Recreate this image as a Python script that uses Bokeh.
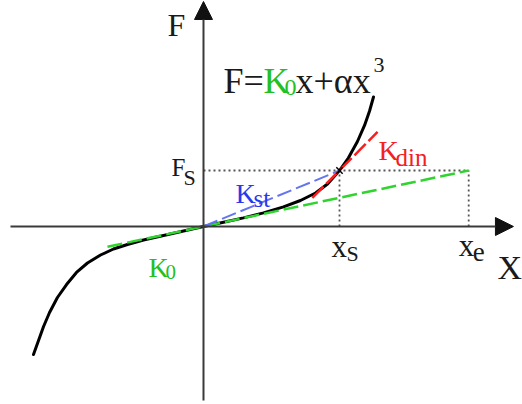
from bokeh.plotting import figure
from bokeh.models import Range1d, Arrow, NormalHead
from bokeh.core.properties import value
from bokeh.embed import file_html
from bokeh.resources import INLINE

# --- data (normalised so that x_s = 1 and F_s = 1) ---------------------------
# characteristic F(x) = K0*x + a*x^3, sampled along the drawn curve
curve_x = [-1.250, -1.213, -1.176, -1.132, -1.074, -1.007, -0.934, -0.853,
           -0.757, -0.662, -0.559, -0.441, -0.294, -0.147,
           0.0, 0.147, 0.294, 0.441, 0.588, 0.713, 0.824, 0.912,
           1.000, 1.066, 1.132, 1.184, 1.221, 1.250]
curve_F = [-2.286, -2.036, -1.786, -1.536, -1.268, -1.036, -0.821, -0.652,
           -0.509, -0.402, -0.321, -0.241, -0.161, -0.080,
           0.0, 0.075, 0.154, 0.243, 0.350, 0.464, 0.598, 0.759,
           1.000, 1.227, 1.518, 1.804, 2.063, 2.313]

x_s = 1.0    # working point displacement
F_s = 1.0    # working point force
x_e = 1.95   # equivalent displacement on the initial stiffness line

k0_x = [-0.706, x_e]        # initial stiffness K0
k0_F = [-0.362, F_s]
kst_x = [0.0, x_s]          # secant (static) stiffness
kst_F = [0.0, F_s]
kdin_x = [0.80, 1.28]       # tangent (dynamic) stiffness
kdin_F = [0.51, 1.69]

# --- figure -------------------------------------------------------------------
W, H = 522, 404
X0, X1 = -1.4926, 2.3456
Y0, Y1 = -3.1786, 4.0357
SX = (X1 - X0) / W   # data units per screen pixel
SY = (Y1 - Y0) / H

SERIF = "Liberation Serif"
GREEN_LINE = "#2fd42f"
GREEN_TEXT = "#22c022"
BLUE_LINE = "#6475f0"
BLUE_TEXT = "#2838ee"
RED = "#f42020"
AXIS = "#3a3a3a"
DOT = "#555555"
INK = "#1a1a1a"

p = figure(width=W, height=H, output_backend="svg", toolbar_location=None,
           x_range=Range1d(X0, X1), y_range=Range1d(Y0, Y1),
           x_axis_location=None, y_axis_location=None, min_border=0)
p.grid.visible = False
p.outline_line_color = None
p.background_fill_color = "white"
p.border_fill_color = "white"

# coordinate axes with arrow heads
x_tail, x_tip = -1.419, 2.279
y_tail, y_tip = -3.107, 4.018
p.add_layout(Arrow(end=NormalHead(size=18, fill_color="#111111", line_color="#111111"),
                   x_start=x_tail, y_start=0, x_end=x_tip, y_end=0,
                   line_color=AXIS, line_width=2))
p.add_layout(Arrow(end=NormalHead(size=18, fill_color="#111111", line_color="#111111"),
                   x_start=0, y_start=y_tail, x_end=0, y_end=y_tip,
                   line_color=AXIS, line_width=2))

# dotted guides to F_s, x_s and x_e
p.line([0, x_e], [F_s, F_s], line_color=DOT, line_width=1.8, line_dash="2 3")
p.line([x_s, x_s], [0, F_s], line_color=DOT, line_width=1.8, line_dash="2 3")
p.line([x_e, x_e], [0, F_s], line_color=DOT, line_width=1.8, line_dash="2 3")

# force-displacement curve
p.line(curve_x, curve_F, line_color="black", line_width=3, line_join="round",
       line_cap="round")

# stiffness lines drawn over the curve
p.line(k0_x, k0_F, line_color=GREEN_LINE, line_width=2.5, line_dash="15 5")
p.line(kst_x, kst_F, line_color=BLUE_LINE, line_width=2, line_dash="15 5")
p.line(kdin_x, kdin_F, line_color=RED, line_width=2.5, line_dash="16 4")

p.scatter([x_s], [F_s], marker="x", size=9, line_color="black", line_width=1.5)


def label(x, y, txt, color, size, dx=0.0, dy=0.0):
    """Text anchored at a data point, shifted by dx/dy screen pixels (dy down)."""
    p.text(x=[x + dx * SX], y=[y - dy * SY], text=[txt], text_color=color,
           text_font=value(SERIF), text_font_size=f"{size}px",
           text_align="left", text_baseline="alphabetic")


# axis names
label(0, y_tip, "F", INK, 32, dx=-36, dy=24)
label(x_tip, 0, "X", INK, 34, dx=-16, dy=41)

# tick-like labels
label(0, F_s, "F", INK, 25, dx=-32, dy=-3)
label(0, F_s, "S", INK, 22, dx=-20, dy=7)
label(x_s, 0, "x", INK, 31, dx=-8, dy=20)
label(x_s, 0, "S", INK, 22, dx=7, dy=27)
label(x_e, 0, "x", INK, 31, dx=-10, dy=19)
label(x_e, 0, "e", INK, 27, dx=4, dy=26)

# stiffness names
label(0, 0, "K", GREEN_TEXT, 28, dx=-55, dy=41)
label(0, 0, "0", GREEN_TEXT, 21, dx=-38, dy=46)
label(0, 0, "K", BLUE_TEXT, 28, dx=32, dy=-33)
label(0, 0, "st", BLUE_TEXT, 25, dx=50, dy=-28)
label(x_s, F_s, "K", RED, 28, dx=39, dy=-20)
label(x_s, F_s, "din", RED, 25, dx=56, dy=-13)

# equation of the characteristic
label(0, y_tip, "F=", INK, 36, dx=20, dy=80)
label(0, y_tip, "K", GREEN_TEXT, 36, dx=60, dy=80)
label(0, y_tip, "0", GREEN_TEXT, 24, dx=81, dy=86)
label(0, y_tip, "x+\u03b1x", INK, 36, dx=92, dy=80)
label(0, y_tip, "3", INK, 22, dx=170, dy=64)

open("out.html", "w").write(file_html(p, INLINE))
